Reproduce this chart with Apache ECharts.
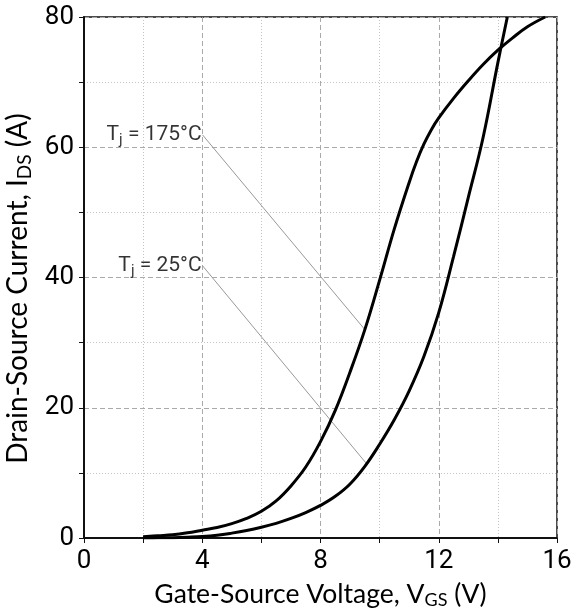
<!DOCTYPE html>
<html>
<head>
<meta charset="utf-8">
<script src="https://cdn.jsdelivr.net/npm/echarts@6/dist/echarts.min.js"></script>
<style>
html,body{margin:0;padding:0;background:#fff;}
#chart{width:582px;height:611px;}
</style>
</head>
<body>
<div id="chart"></div>
<script>
// Gate-source voltage (V) vs drain-source current (A), Tj = 175 °C
const vgs175 = [2.0, 2.5, 3.0, 3.5, 4.0, 4.5, 5.0, 5.5, 6.0, 6.5, 7.0, 7.5, 8.0, 8.5, 9.0, 9.5, 10.0, 10.5, 11.0, 11.25, 11.5, 11.75, 12.0, 12.5, 13.0, 13.5, 14.0, 14.5, 15.0, 15.6];
const ids175 = [0.2, 0.35, 0.5, 0.8, 1.2, 1.6, 2.2, 3.0, 4.1, 5.7, 8.0, 10.9, 14.8, 19.6, 25.5, 32.0, 39.6, 47.5, 54.6, 57.8, 60.5, 62.7, 64.5, 67.5, 70.2, 72.7, 74.9, 76.8, 78.5, 80.0];
// Tj = 25 °C
const vgs25 = [2.0, 2.5, 3.0, 3.5, 4.0, 4.5, 5.0, 5.5, 6.0, 6.5, 7.0, 7.5, 8.0, 8.5, 9.0, 9.5, 10.0, 10.5, 11.0, 11.5, 12.0, 12.5, 13.0, 13.5, 14.0, 14.32];
const ids25 = [0.0, 0.02, 0.05, 0.12, 0.22, 0.42, 0.75, 1.15, 1.65, 2.25, 3.0, 3.9, 5.0, 6.4, 8.3, 11.0, 14.4, 18.2, 22.6, 27.9, 34.6, 43.2, 52.3, 61.5, 73.0, 80.0];
// Annotation leader lines: [label anchor, curve point]
const leader175 = [[4.01, 61.9], [9.5, 32.0]];
const leader25 = [[4.01, 41.8], [9.56, 11.4]];
const labelText175 = '{a|T}{s|j}{a| = 175°C}';
const labelText25 = '{a|T}{s|j}{a| = 25°C}';
const xTitle = '{a|Gate-Source Voltage, V}{s|GS}{a| (V)}';
const yTitle = '{a|Drain-Source Current, I}{s|DS}{a| (A)}';

const zip = (xs, ys) => xs.map((x, i) => [x, ys[i]]);

const tickFont = 'Roboto, sans-serif';
const titleFont = 'Lato, "Noto Sans", sans-serif';

const xTitleRich = {
  a: { fontFamily: titleFont, fontSize: 26.5, color: '#000', lineHeight: 30 },
  s: { fontFamily: titleFont, fontSize: 18, color: '#000', lineHeight: 20, padding: [12, 0, 0, 0] }
};
const yTitleRich = {
  a: { fontFamily: titleFont, fontSize: 28, color: '#000', lineHeight: 30 },
  s: { fontFamily: titleFont, fontSize: 19, color: '#000', lineHeight: 20, padding: [12, 0, 0, 0] }
};
const annRich = {
  a: { fontFamily: tickFont, fontSize: 21, color: '#000', lineHeight: 26 },
  s: { fontFamily: tickFont, fontSize: 15, color: '#000', lineHeight: 18, padding: [10, 0, 0, 0] }
};

const chart = echarts.init(document.getElementById('chart'));
chart.setOption({
  animation: false,
  backgroundColor: '#fff',
  grid: { left: 84, right: 25, top: 17, bottom: 73, outerBoundsMode: 'none', containLabel: false,
          show: true, borderColor: '#111', borderWidth: 1.5, backgroundColor: 'transparent' },
  xAxis: {
    type: 'value', min: 0, max: 16, interval: 4,
    name: xTitle, nameLocation: 'middle', nameGap: 41,
    nameTextStyle: { rich: xTitleRich },
    axisLine: { show: true, onZero: false, lineStyle: { color: '#111', width: 2 } },
    axisTick: { show: true, length: 5, lineStyle: { color: '#111', width: 1 } },
    minorTick: { show: true, splitNumber: 2, length: 5, lineStyle: { color: '#111', width: 1 } },
    axisLabel: { fontFamily: tickFont, fontSize: 26, color: '#000', margin: 10 },
    splitLine: { show: true, lineStyle: { color: '#aaa', type: [5, 3], width: 1 } },
    minorSplitLine: { show: true, lineStyle: { color: '#c4c4c4', type: [1, 2], width: 1 } }
  },
  yAxis: {
    type: 'value', min: 0, max: 80, interval: 20,
    name: yTitle, nameLocation: 'middle', nameGap: 46, nameRotate: 90,
    nameTextStyle: { rich: yTitleRich, padding: [0, 22, 0, 0] },
    axisLine: { show: true, onZero: false, lineStyle: { color: '#111', width: 2 } },
    axisTick: { show: true, length: 5, lineStyle: { color: '#111', width: 1 } },
    minorTick: { show: true, splitNumber: 2, length: 5, lineStyle: { color: '#111', width: 1 } },
    axisLabel: { fontFamily: tickFont, fontSize: 26, color: '#000', margin: 10 },
    splitLine: { show: true, lineStyle: { color: '#aaa', type: [5, 3], width: 1 } },
    minorSplitLine: { show: true, lineStyle: { color: '#c4c4c4', type: [1, 2], width: 1 } }
  },
  series: [
    { type: 'line', data: zip(vgs175, ids175), smooth: 0.4, symbol: 'none', clip: true,
      lineStyle: { color: '#000', width: 3 }, z: 5 },
    { type: 'line', data: zip(vgs25, ids25), smooth: 0.4, symbol: 'none', clip: true,
      lineStyle: { color: '#000', width: 3 }, z: 5 },
    { type: 'line', data: leader175, symbol: 'none', lineStyle: { color: '#999', width: 1 }, z: 3 },
    { type: 'line', data: leader25, symbol: 'none', lineStyle: { color: '#999', width: 1 }, z: 3 },
    { type: 'scatter', symbolSize: 0, z: 6,
      data: [
        { value: leader175[0], label: { show: true, position: 'left', distance: 1, formatter: labelText175, rich: annRich } },
        { value: leader25[0], label: { show: true, position: 'left', distance: 1, formatter: labelText25, rich: annRich } }
      ] }
  ]
});
</script>
</body>
</html>
